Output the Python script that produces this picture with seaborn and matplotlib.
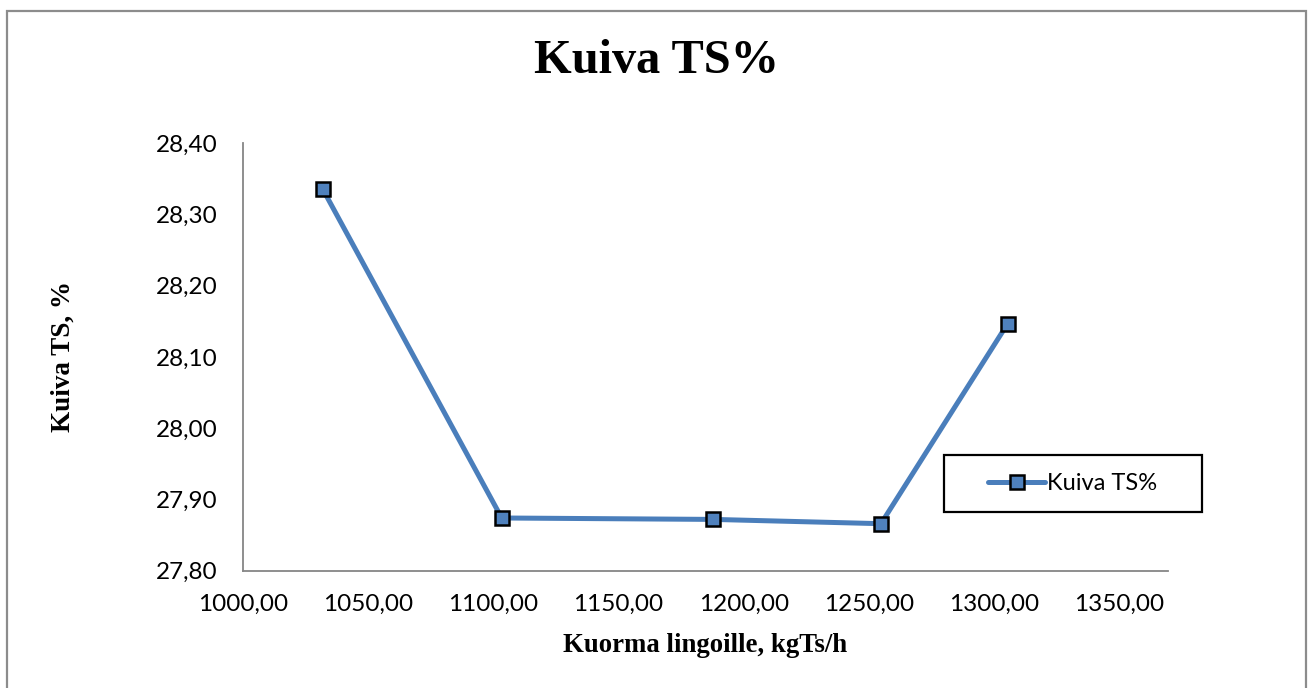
import matplotlib
matplotlib.use("Agg")
import matplotlib.pyplot as plt
from matplotlib.patches import Rectangle
import seaborn as sns
import pandas as pd

# Measured dry-solids content against centrifuge load
load_kgts_h = [1031.9, 1103.4, 1187.9, 1254.8, 1305.4]
dry_ts_pct = [28.336, 27.874, 27.872, 27.866, 28.147]
series_name = "Kuiva TS%"

x_ticks = [1000, 1050, 1100, 1150, 1200, 1250, 1300, 1350]
y_ticks = [27.80, 27.90, 28.00, 28.10, 28.20, 28.30, 28.40]

df = pd.DataFrame({"load": load_kgts_h, "ts": dry_ts_pct, "series": series_name})

sns.set_theme(style="white")
plt.rcParams["font.family"] = ["Lato", "DejaVu Sans"]
plt.rcParams["text.color"] = "black"
plt.rcParams["axes.labelcolor"] = "black"

W, H = 1308, 688
fig = plt.figure(figsize=(W / 100, H / 100), dpi=100)
ax = fig.add_axes([242.7 / W, 1 - 570.7 / H, (1168.3 - 242.7) / W, (570.7 - 143.3) / H])

line_color = "#4A7EBB"
sns.lineplot(data=df, x="load", y="ts", hue="series", palette=[line_color],
             marker="s", markersize=10, markerfacecolor="#4F81BD",
             markeredgecolor="black", markeredgewidth=1.8,
             linewidth=3.6, ax=ax, legend=True, sort=False)

ax.set_xlim(1000, 1369.5)
ax.set_ylim(27.80, 28.40)
ax.set_xticks(x_ticks)
ax.set_yticks(y_ticks)
fmt = lambda v, d: f"{v:.{d}f}".replace(".", ",")
ax.set_xticklabels([fmt(v, 2) for v in x_ticks])
ax.set_yticklabels([fmt(v, 2) for v in y_ticks])
ax.tick_params(axis="both", labelsize=17.5, colors="#868686", labelcolor="black",
               length=6, width=1.2, direction="out")
ax.tick_params(axis="x", pad=11)
ax.tick_params(axis="y", pad=12)
for side in ("top", "right"):
    ax.spines[side].set_visible(False)
for side in ("left", "bottom"):
    ax.spines[side].set_color("#868686")
    ax.spines[side].set_linewidth(1.3)

serif = ["Liberation Serif", "DejaVu Serif"]
ax.set_xlabel("Kuorma lingoille, kgTs/h", fontfamily=serif, fontweight="bold",
              fontsize=19.3, color="black")
ax.xaxis.set_label_coords(0.5, (570.7 - 645) / (570.7 - 143.3))
ax.xaxis.label.set_va("center")
ax.set_ylabel("Kuiva TS, %", fontfamily=serif, fontweight="bold",
              fontsize=19.5, color="black")
ax.yaxis.set_label_coords((63 - 242.7) / (1168.3 - 242.7), (570.7 - 356) / (570.7 - 143.3))
ax.yaxis.label.set_va("center")

fig.text(657 / W, 1 - 61 / H, "Kuiva TS%", fontfamily=serif, fontweight="bold",
         fontsize=34.8, ha="center", va="center", color="black")

# Legend with its own box
leg = ax.legend(loc="center", bbox_to_anchor=((944 + 1202) / 2 / W, 1 - (455 + 512) / 2 / H),
                bbox_transform=fig.transFigure, frameon=False, fontsize=17,
                handlelength=2.4, handletextpad=0.1)
fig.add_artist(Rectangle((944 / W, 1 - 512.3 / H), (1202 - 944) / W, (512.3 - 455) / H,
                         transform=fig.transFigure, fill=False, edgecolor="black", linewidth=1.6))

# Outer chart frame
fig.add_artist(Rectangle((6.5 / W, -0.05), (1305.5 - 6.5) / W, 1.05 - 10.5 / H,
                         transform=fig.transFigure, fill=False, edgecolor="#8C8C8C",
                         linewidth=1.6))

fig.savefig("out.png", dpi=100)
